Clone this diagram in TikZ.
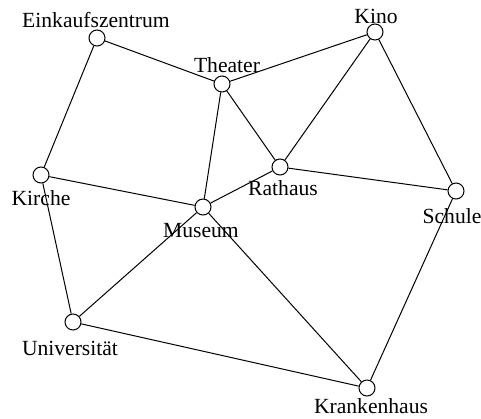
\documentclass[tikz,border=0pt]{standalone}
\usepackage{fontspec}
\setmainfont{Liberation Serif}
\usetikzlibrary{positioning}

\begin{document}
\begin{tikzpicture}[x=0.5pt,y=-0.5pt,
    ort/.style={draw,circle,fill=white,inner sep=0pt,minimum size=8pt,line width=0.5pt},
    ortname/.style={anchor=base,inner sep=0pt,font=\fontsize{10.8}{13}\selectfont},
    weg/.style={line width=0.5pt}]
    \useasboundingbox (0,0) rectangle (481,418);
    % Orte
    \node[ort] (ez) at (97,38) {};
    \node[ort] (th) at (222,84) {};
    \node[ort] (ki) at (375,32) {};
    \node[ort] (ra) at (280,167) {};
    \node[ort] (kr) at (41,175) {};
    \node[ort] (mu) at (203,207) {};
    \node[ort] (sc) at (456,191) {};
    \node[ort] (un) at (73,322) {};
    \node[ort] (kh) at (367,388) {};
    % Namen
    \node[ortname] (ezl) at (96,27) {Einkaufszentrum};
    \node[ortname] (thl) at (227,72) {Theater};
    \node[ortname] (kil) at (376,23) {Kino};
    \node[ortname] (ral) at (283,195) {Rathaus};
    \node[ortname] (krl) at (41,205) {Kirche};
    \node[ortname] (mul) at (201,237) {Museum};
    \node[ortname] (scl) at (452,223) {Schule};
    \node[ortname] (unl) at (70,355) {Universität};
    \node[ortname] (khl) at (371,413) {Krankenhaus};
    % Wege
    \draw[weg] (ez)--(th) (ez)--(kr);
    \draw[weg] (th)--(ki) (th)--(ra) (th)--(mu);
    \draw[weg] (ki)--(ra) (ki)--(sc);
    \draw[weg] (ra)--(sc) (ra)--(mu);
    \draw[weg] (kr)--(mu) (kr)--(un);
    \draw[weg] (mu)--(un) (mu)--(kh);
    \draw[weg] (un)--(kh) (sc)--(kh);
\end{tikzpicture}
\end{document}
